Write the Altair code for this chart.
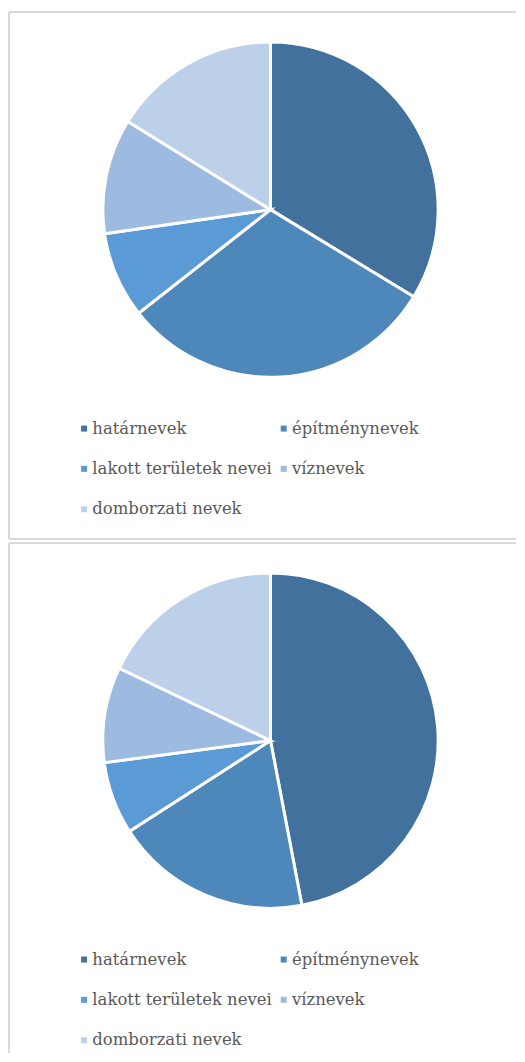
import altair as alt
import pandas as pd

categories = ["határnevek", "építménynevek", "lakott területek nevei", "víznevek", "domborzati nevek"]
values_top = [33.7, 30.7, 8.3, 11.1, 16.2]
values_bottom = [47.0, 18.9, 7.0, 9.2, 17.9]
colors = ["#41719c", "#4e88bb", "#5b9bd5", "#9dbbe0", "#bdd0ea"]

W = 508
H1 = 528
H2 = 511
BORDER = "#d9d9d9"


def borders(h, closed):
    one = pd.DataFrame({"k": [0]})
    base = alt.Chart(one)
    top = base.mark_rule(color=BORDER, strokeWidth=2).encode(
        x=alt.value(0), x2=alt.value(W), y=alt.value(0)
    )
    left = base.mark_rule(color=BORDER, strokeWidth=2).encode(
        x=alt.value(0), y=alt.value(0), y2=alt.value(h)
    )
    layers = [top, left]
    if closed:
        bottom = base.mark_rule(color=BORDER, strokeWidth=2).encode(
            x=alt.value(0), x2=alt.value(W), y=alt.value(h)
        )
        layers.append(bottom)
    return layers


def panel(values, h, closed):
    df = pd.DataFrame({"cat": categories, "val": values, "idx": list(range(len(categories)))})
    pie = (
        alt.Chart(df)
        .mark_arc(radius=168, stroke="white", strokeWidth=3)
        .encode(
            theta=alt.Theta("val:Q", stack=True),
            order=alt.Order("idx:Q"),
            x=alt.value(262),
            y=alt.value(198),
            color=alt.Color(
                "cat:N",
                sort=categories,
                scale=alt.Scale(domain=categories, range=colors),
                legend=alt.Legend(
                    title=None,
                    orient="none",
                    direction="horizontal",
                    legendX=67,
                    legendY=409,
                    padding=0,
                    columns=2,
                    symbolType="square",
                    symbolSize=36,
                    symbolStrokeWidth=0,
                    labelFont="DejaVu Serif",
                    labelFontSize=16.5,
                    labelColor="#595959",
                    labelOffset=0,
                    rowPadding=23.5,
                    columnPadding=3,
                    labelLimit=400,
                ),
            ),
        )
    )
    return alt.layer(pie, *borders(h, closed)).properties(width=W, height=h)


chart = (
    alt.vconcat(panel(values_top, H1, True), panel(values_bottom, H2, False), spacing=2)
    .resolve_scale(color="independent")
    .resolve_legend(color="independent")
    .properties(padding={"left": 0, "top": 2, "right": 0, "bottom": 0}, background="white")
    .configure_view(stroke=None)
)

chart.save("out.html", embed_options={"renderer": "svg", "actions": False})
